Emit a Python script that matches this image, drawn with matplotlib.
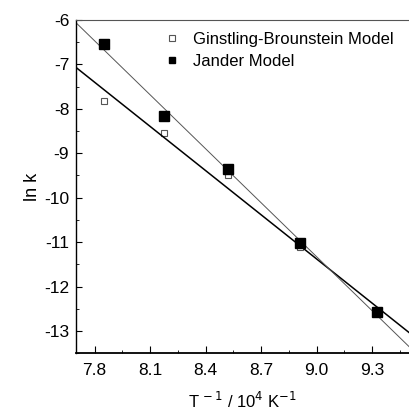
import numpy as np
import matplotlib.pyplot as plt
from matplotlib.ticker import MultipleLocator

plt.rcParams['font.family'] = ['Liberation Sans', 'DejaVu Sans']
plt.rcParams['axes.unicode_minus'] = False

# data
inv_t = [7.853, 8.176, 8.523, 8.909, 9.325]
ln_k_gb = [-7.82, -8.54, -9.49, -11.10, -12.60]
ln_k_jander = [-6.55, -8.16, -9.36, -11.03, -12.57]

xlim = (7.7, 9.5)
xfit = np.array(xlim)

fig = plt.figure(figsize=(4.09, 4.16), dpi=100)
ax = fig.add_axes([0.186, 0.151, 0.814, 0.801])

# linear fits
p_gb = np.polyfit(inv_t, ln_k_gb, 1)
p_j = np.polyfit(inv_t, ln_k_jander, 1)
ax.plot(xfit, np.polyval(p_gb, xfit), color='black', lw=1.1, zorder=2)
ax.plot(xfit, np.polyval(p_j, xfit), color='#555555', lw=0.7, zorder=2)

ax.plot(inv_t, ln_k_gb, 's', ms=5, mfc='white', mec='#555555', mew=0.8,
        ls='none', label='Ginstling-Brounstein Model', zorder=1)
ax.plot(inv_t, ln_k_jander, 's', ms=6.5, mfc='black', mec='black',
        ls='none', label='Jander Model', zorder=3)

ax.set_xlim(*xlim)
ax.set_ylim(-13.5, -6)
ax.xaxis.set_minor_locator(MultipleLocator(0.15))
ax.yaxis.set_major_locator(MultipleLocator(1))
ax.yaxis.set_minor_locator(MultipleLocator(0.5))
ax.set_xticks([7.8, 8.1, 8.4, 8.7, 9.0, 9.3])
ax.set_xticklabels(['7.8', '8.1', '8.4', '8.7', '9.0', '9.3'])
ax.tick_params(which='both', direction='in', labelsize=12.5, top=False, right=False)
ax.tick_params(axis='x', which='major', length=5, pad=7)
ax.tick_params(axis='y', which='major', length=4, pad=5)
ax.tick_params(which='minor', length=2.5)

ax.spines['right'].set_visible(False)
ax.spines['top'].set_color('#555555')
ax.spines['left'].set_linewidth(1.0)
ax.spines['bottom'].set_linewidth(1.3)

ax.set_ylabel('ln k', fontsize=13, labelpad=2)
ax.set_xlabel('T$^{\\,-1}$ / 10$^{4}$ K$^{-1}$', fontsize=12, labelpad=9)

ax.legend(loc='upper right', frameon=False, fontsize=12, handlelength=0.8,
          handletextpad=0.9, borderaxespad=0.3, labelspacing=0.45,
          markerscale=0.75, bbox_to_anchor=(0.99, 1.0))

fig.savefig('out.png', dpi=100)
